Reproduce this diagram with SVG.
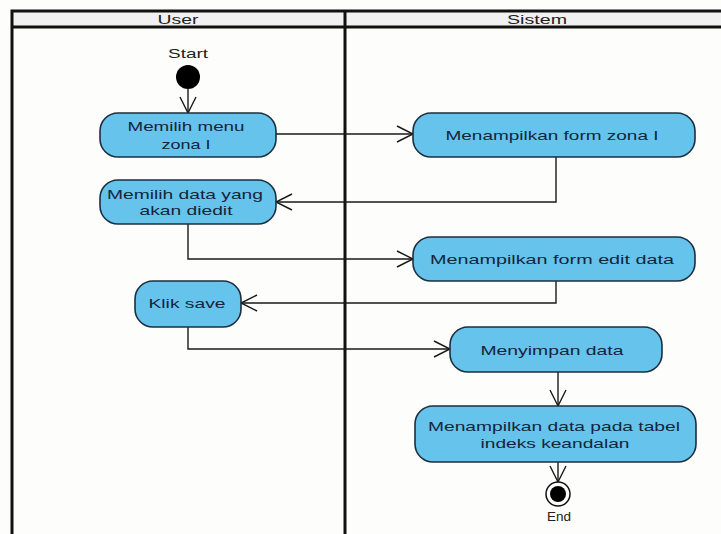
<svg xmlns="http://www.w3.org/2000/svg" width="721" height="534" viewBox="0 0 721 534">
  <style>
    .lane { fill: none; stroke: #111; stroke-width: 3; }
    .head { fill: #f1f1f1; }
    .lbl { font-family: "Liberation Sans", Arial, sans-serif; font-size: 13px; fill: #222; text-anchor: middle; }
    .act rect { fill: #66c3ec; stroke: #1b2f3f; stroke-width: 1.6; }
    .act text { font-family: "Liberation Sans", Arial, sans-serif; font-size: 13px; fill: #14263a; text-anchor: middle; }
    .flow { fill: none; stroke: #1a1a1a; stroke-width: 1.4; marker-end: url(#open); }
  </style>
  <defs>
    <marker id="open" markerUnits="userSpaceOnUse" markerWidth="20" markerHeight="20" refX="17" refY="9" orient="auto">
      <path d="M1,1 L17,9 L1,17" fill="none" stroke="#1a1a1a" stroke-width="1.4"/>
    </marker>
  </defs>

  <rect width="721" height="534" fill="#fdfdfb"/>

  <!-- swimlanes -->
  <g id="lanes">
    <rect class="head" x="12" y="11" width="712" height="16"/>
    <rect class="lane" x="12" y="11" width="715" height="530"/>
    <line class="lane" x1="12" y1="27" x2="721" y2="27"/>
    <line class="lane" x1="345" y1="11" x2="345" y2="534"/>
    <text class="lbl" x="178" y="24" textLength="41" lengthAdjust="spacingAndGlyphs">User</text>
    <text class="lbl" x="537" y="24" textLength="60" lengthAdjust="spacingAndGlyphs">Sistem</text>
  </g>

  <!-- connectors -->
  <g id="connectors">
    <path class="flow" d="M188,89 L188,113"/>
    <path class="flow" d="M276,134 L413,134"/>
    <path class="flow" d="M556,157 L556,202 L276,202"/>
    <path class="flow" d="M188,224 L188,259 L413,259"/>
    <path class="flow" d="M556,281 L556,303 L241,303"/>
    <path class="flow" d="M188,327 L188,349 L450,349"/>
    <path class="flow" d="M558,372 L558,406"/>
    <path class="flow" d="M558,462 L558,482"/>
  </g>

  <g id="start">
    <text class="lbl" x="188" y="58" textLength="40" lengthAdjust="spacingAndGlyphs">Start</text>
    <circle cx="188" cy="77" r="12" fill="#000"/>
  </g>

  <g id="memilih-menu" class="act">
    <rect x="100" y="113" width="176" height="44" rx="18"/>
    <text x="186" y="131" textLength="117" lengthAdjust="spacingAndGlyphs">Memilih menu</text>
    <text x="186" y="149" textLength="49" lengthAdjust="spacingAndGlyphs">zona I</text>
  </g>

  <g id="form-zona" class="act">
    <rect x="413" y="113" width="282" height="44" rx="18"/>
    <text x="552" y="140" textLength="213" lengthAdjust="spacingAndGlyphs">Menampilkan form zona I</text>
  </g>

  <g id="memilih-data" class="act">
    <rect x="100" y="180" width="176" height="44" rx="18"/>
    <text x="185" y="199" textLength="156" lengthAdjust="spacingAndGlyphs">Memilih data yang</text>
    <text x="186" y="215" textLength="93" lengthAdjust="spacingAndGlyphs">akan diedit</text>
  </g>

  <g id="form-edit" class="act">
    <rect x="413" y="237" width="282" height="44" rx="18"/>
    <text x="552" y="264" textLength="244" lengthAdjust="spacingAndGlyphs">Menampilkan form edit data</text>
  </g>

  <g id="klik-save" class="act">
    <rect x="135" y="281" width="106" height="46" rx="18"/>
    <text x="187" y="308" textLength="77" lengthAdjust="spacingAndGlyphs">Klik save</text>
  </g>

  <g id="menyimpan" class="act">
    <rect x="450" y="327" width="212" height="45" rx="18"/>
    <text x="552" y="355" textLength="143" lengthAdjust="spacingAndGlyphs">Menyimpan data</text>
  </g>

  <g id="tabel-indeks" class="act">
    <rect x="415" y="406" width="281" height="56" rx="18"/>
    <text x="554" y="431" textLength="252" lengthAdjust="spacingAndGlyphs">Menampilkan data pada tabel</text>
    <text x="555" y="448" textLength="149" lengthAdjust="spacingAndGlyphs">indeks keandalan</text>
  </g>

  <g id="end">
    <circle cx="558" cy="494" r="12" fill="#fff" stroke="#111" stroke-width="1.5"/>
    <circle cx="558" cy="494" r="8" fill="#000"/>
    <text class="lbl" x="559" y="521" textLength="24" lengthAdjust="spacingAndGlyphs">End</text>
  </g>
</svg>
